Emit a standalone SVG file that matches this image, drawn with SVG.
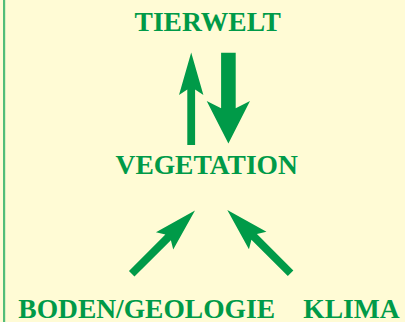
<svg xmlns="http://www.w3.org/2000/svg" width="405" height="322" viewBox="0 0 405 322">
<style>
.lbl{font-family:"Liberation Serif","Times New Roman",serif;font-weight:bold;font-size:27.5px;fill:#009A48}
.arr{fill:#009A48}
</style>
<rect x="0" y="0" width="405" height="322" fill="#FFFBD5"/>
<rect x="3" y="0" width="2.2" height="322" fill="#52BD78"/>
<g id="tierwelt"><text class="lbl" x="207.7" y="31" text-anchor="middle">TIERWELT</text></g>
<g id="vegetation"><text class="lbl" x="206.7" y="174.3" text-anchor="middle">VEGETATION</text></g>
<g id="boden"><text class="lbl" x="18.3" y="318.3">BODEN/GEOLOGIE</text></g>
<g id="klima"><text class="lbl" x="303.3" y="318.3">KLIMA</text></g>
<g id="connectors">
<polygon class="arr" points="191.2,52.5 203.4,95 195.1,89.5 195.1,145 187.3,145 187.3,89.5 179,95"/>
<polygon class="arr" points="228.4,143.5 250,101 235.7,108.3 235.7,52.7 221.1,52.7 221.1,108.3 206.7,101"/>
<g transform="translate(195,210.5) rotate(45)">
<polygon class="arr" points="0,0 12.2,43 3.9,38 3.9,89.5 -3.9,89.5 -3.9,38 -12.2,43"/>
</g>
<g transform="translate(227.3,210) rotate(-45)">
<polygon class="arr" points="0,0 12.4,43 3.9,38 3.9,89.5 -3.9,89.5 -3.9,38 -12.4,43"/>
</g>
</g>
</svg>
